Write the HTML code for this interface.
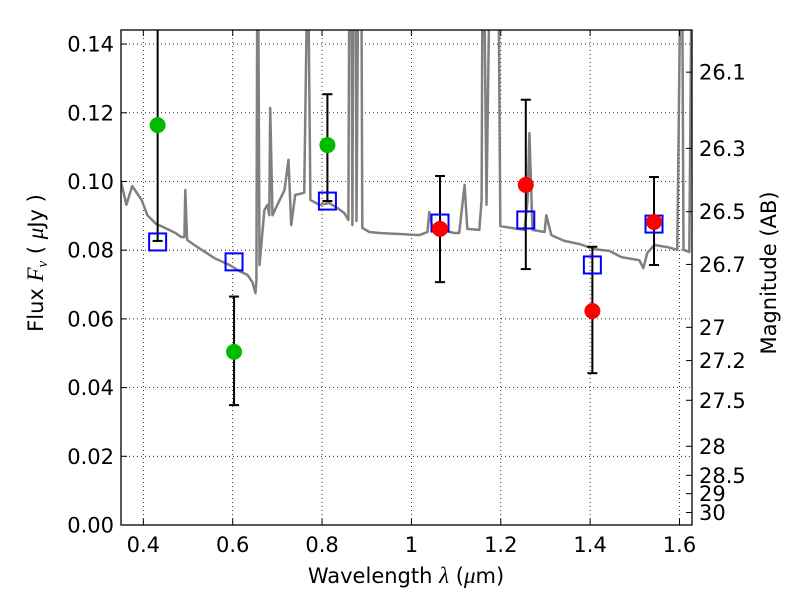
<!DOCTYPE html>
<html><head><meta charset="utf-8"><style>
body{margin:0;background:#fff}
svg{display:block;font-family:"DejaVu Sans","Liberation Sans",sans-serif}
</style></head><body>
<svg id="chart" width="800" height="600" xmlns="http://www.w3.org/2000/svg">
<g id="grid"></g>
<g id="plot"></g>
<g id="axes"></g>
</svg>
<script>
const specLam=[0.349,0.362,0.375,0.396,0.409,0.429,0.440,0.472,0.485,0.492,0.494,0.498,0.521,0.559,0.593,0.615,0.633,0.644,0.651,0.653,0.655,0.657,0.660,0.664,0.671,0.678,0.682,0.684,0.689,0.700,0.716,0.725,0.731,0.740,0.760,0.767,0.769,0.774,0.794,0.816,0.834,0.850,0.859,0.861,0.866,0.868,0.870,0.875,0.877,0.881,0.888,0.890,0.906,0.928,0.973,1.018,1.036,1.040,1.047,1.096,1.107,1.119,1.125,1.152,1.157,1.159,1.163,1.168,1.175,1.181,1.188,1.195,1.199,1.224,1.253,1.260,1.264,1.271,1.298,1.302,1.313,1.342,1.376,1.410,1.443,1.470,1.510,1.519,1.528,1.544,1.573,1.595,1.602,1.606,1.609,1.622,1.627];
const specFlux=[0.1004,0.0932,0.0987,0.0946,0.0902,0.0876,0.0870,0.0850,0.0838,0.0838,0.0975,0.0830,0.0809,0.0777,0.0757,0.0739,0.0728,0.0707,0.0675,0.0713,0.16,0.16,0.0757,0.0815,0.0917,0.0932,0.0902,0.1214,0.0902,0.0932,0.0975,0.1063,0.0873,0.0961,0.0967,0.16,0.16,0.0946,0.0932,0.0937,0.0923,0.0908,0.0888,0.16,0.16,0.0873,0.16,0.16,0.0885,0.16,0.16,0.0865,0.0853,0.0850,0.0847,0.0844,0.0853,0.0911,0.0865,0.0850,0.0850,0.0990,0.0862,0.0859,0.0946,0.16,0.16,0.0932,0.16,0.16,0.16,0.16,0.0870,0.0865,0.0859,0.0946,0.1141,0.0859,0.0853,0.0902,0.0844,0.0827,0.0818,0.0803,0.0798,0.0780,0.0771,0.0748,0.0792,0.0815,0.0809,0.0801,0.16,0.16,0.0801,0.0795,0.16];
const bandLam=[0.432,0.603,0.812,1.064,1.256,1.405,1.543];
const modelFlux=[0.0824,0.0766,0.0943,0.0879,0.0888,0.0757,0.0876];
const obsLam=[0.432,0.603,0.812,1.064,1.256,1.405,1.543];
const obsFlux=[0.1164,0.0504,0.1106,0.0862,0.0990,0.0623,0.0882];
const obsColor=['#00bb00','#00bb00','#00bb00','#ff0000','#ff0000','#ff0000','#ff0000'];
const errLo=[0.0827,0.0349,0.0943,0.0707,0.0745,0.0442,0.0757];
const errHi=[0.16,0.0665,0.1254,0.1016,0.1238,0.0810,0.1013];
const xTicks=[0.4,0.6,0.8,1.0,1.2,1.4,1.6];
const xTickLabels=['0.4','0.6','0.8','1','1.2','1.4','1.6'];
const yTicks=[0,0.02,0.04,0.06,0.08,0.1,0.12,0.14];
const yTickLabels=['0.00','0.02','0.04','0.06','0.08','0.10','0.12','0.14'];
const magTicks=[26.1,26.3,26.5,26.7,27,27.2,27.5,28,28.5,29,30];
const magTickLabels=['26.1','26.3','26.5','26.7','27','27.2','27.5','28','28.5','29','30'];

const L=121,R=692,T=30,B=525,X0=0.35,X1=1.628,Y0=0,Y1=0.1441;
const sx=v=>L+(v-X0)/(X1-X0)*(R-L);
const sy=v=>B-(v-Y0)/(Y1-Y0)*(B-T);
const NS='http://www.w3.org/2000/svg';
const FS=21;
function mk(tag,attrs,parent){const e=document.createElementNS(NS,tag);for(const k in attrs)e.setAttribute(k,attrs[k]);parent.appendChild(e);return e;}
const grid=document.getElementById('grid'),plot=document.getElementById('plot'),axes=document.getElementById('axes');
const defs=mk('defs',{},document.getElementById('chart'));
const cp=mk('clipPath',{id:'clip'},defs);mk('rect',{x:L,y:T,width:R-L,height:B-T},cp);
plot.setAttribute('clip-path','url(#clip)');

xTicks.forEach((v,i)=>{
 const g=mk('line',{x1:sx(v),x2:sx(v),y1:T,y2:B,stroke:'#000','stroke-width':0.8,'stroke-dasharray':'1,3'},grid);
 
 const t=mk('line',{x1:sx(v),x2:sx(v),y1:B,y2:B-6,stroke:'#000'},axes);
 
 const tt=mk('line',{x1:sx(v),x2:sx(v),y1:T,y2:T+6,stroke:'#000'},axes);
 
 const l=mk('text',{x:sx(v),y:B+27,'text-anchor':'middle','font-size':FS},axes);l.textContent=xTickLabels[i];
 
});
yTicks.forEach((v,i)=>{
 const g=mk('line',{x1:L,x2:R,y1:sy(v),y2:sy(v),stroke:'#000','stroke-width':0.8,'stroke-dasharray':'1,3'},grid);
 
 const t=mk('line',{x1:L,x2:L+6,y1:sy(v),y2:sy(v),stroke:'#000'},axes);
 
 const l=mk('text',{x:L-7,y:sy(v)+7.5,'text-anchor':'end','font-size':FS},axes);l.textContent=yTickLabels[i];
 
});
magTicks.forEach((m,i)=>{
 const f=Math.pow(10,(23.9-m)/2.5);
 const t=mk('line',{x1:R,x2:R-6,y1:sy(f),y2:sy(f),stroke:'#000'},axes);
 
 const l=mk('text',{x:R+7,y:sy(f)+7.5,'font-size':FS},axes);l.textContent=magTickLabels[i];
 
});
const pts=specLam.map((v,i)=>sx(v).toFixed(1)+','+sy(specFlux[i]).toFixed(1)).join(' ');
const sp=mk('polyline',{points:pts,fill:'none',stroke:'#808080','stroke-width':2.5,'stroke-linejoin':'round'},plot);

obsLam.forEach((v,i)=>{
 const x=sx(v);
 const e=mk('line',{x1:x,x2:x,y1:sy(errLo[i]),y2:sy(errHi[i]),stroke:'#000','stroke-width':2},plot);
 
 [errLo[i],errHi[i]].forEach(q=>{const c=mk('line',{x1:x-5,x2:x+5,y1:sy(q),y2:sy(q),stroke:'#000','stroke-width':2},plot);
  });
});
bandLam.forEach((v,i)=>{
 const s=mk('rect',{x:sx(v)-8.5,y:sy(modelFlux[i])-8.5,width:17,height:17,fill:'none',stroke:'#0000ff','stroke-width':2},plot);
 
});
obsLam.forEach((v,i)=>{
 const c=mk('circle',{cx:sx(v),cy:sy(obsFlux[i]),r:8,fill:obsColor[i]},plot);
 
});
const fr=mk('rect',{x:L,y:T,width:R-L,height:B-T,fill:'none',stroke:'#000','stroke-width':1.3},axes);

const xt=mk('text',{x:406,y:583,'text-anchor':'middle','font-size':FS},axes);
xt.innerHTML='Wavelength  <tspan font-style="italic" font-family="Liberation Serif,serif" font-size="23">λ</tspan> (<tspan font-style="italic" font-family="Liberation Serif,serif" font-size="23">μ</tspan>m)';

const yt=mk('text',{x:0,y:0,'text-anchor':'middle','font-size':FS,transform:'translate(43,263) rotate(-90)'},axes);
yt.innerHTML='Flux  <tspan font-style="italic" font-family="Liberation Serif,serif" font-size="23">F</tspan><tspan font-style="italic" font-size="15" dy="4" font-family="Liberation Serif,serif">ν</tspan><tspan dy="-4">  ( </tspan><tspan font-style="italic" font-family="Liberation Serif,serif" font-size="23">μ</tspan>Jy )';

const rt=mk('text',{x:0,y:0,'text-anchor':'middle','font-size':FS,transform:'translate(776,273) rotate(-90)'},axes);
rt.textContent='Magnitude (AB)';

</script>
</body></html>
